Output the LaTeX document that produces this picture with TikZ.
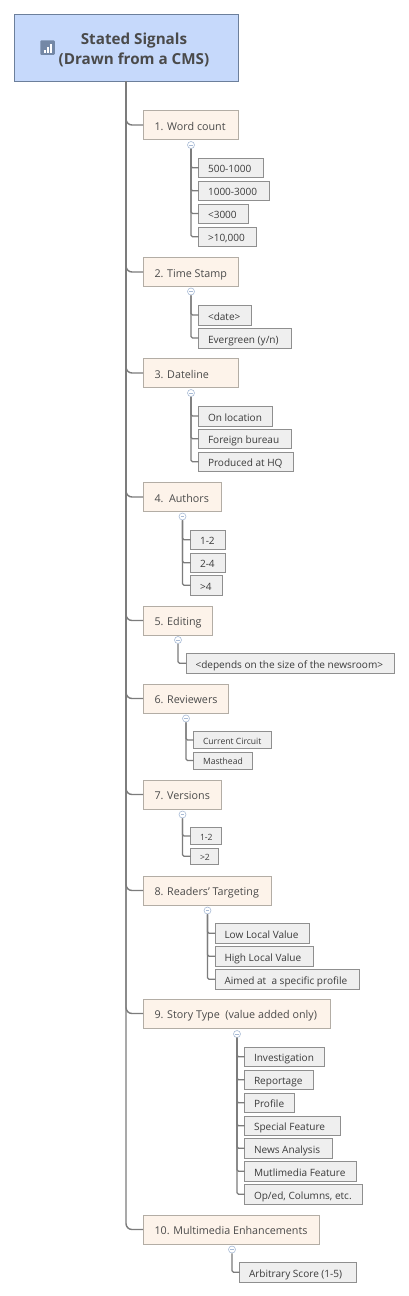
\documentclass[tikz,border=0pt]{standalone}
\usepackage{fontspec}
\setmainfont{Open Sans}
\definecolor{linec}{HTML}{7C7C7C}
\definecolor{txtc}{HTML}{4A4A4A}
\definecolor{rootedge}{HTML}{6C7F9B}
\definecolor{rootfill}{HTML}{C6D9FB}
\definecolor{topicedge}{HTML}{B3ADA5}
\definecolor{topicfill}{HTML}{FDF3EA}
\definecolor{subedge}{HTML}{8F8F8F}
\definecolor{subfill}{HTML}{EFEFEF}
\definecolor{colledge}{HTML}{A9BBD6}
\definecolor{iconc}{HTML}{7488A6}
\tikzset{
  x=1pt,y=-1pt,
  rootbox/.style={draw=rootedge,fill=rootfill,line width=1pt,inner sep=0pt,outer sep=0pt},
  topicbox/.style={draw=topicedge,fill=topicfill,line width=.9pt,anchor=west,inner sep=0pt,outer sep=0pt,text=txtc,text height=10pt,text depth=0pt,font=\fontsize{10.75}{14}\selectfont},
  subbox/.style={draw=subedge,fill=subfill,line width=.9pt,anchor=west,inner sep=0pt,outer sep=0pt,text=txtc!80!black,text height=10pt,text depth=0pt,font=\fontsize{10.05}{13}\selectfont},
  smallbox/.style={subbox,text height=8.6pt,font=\fontsize{8.6}{11}\selectfont},
  collapse/.style={circle,draw=colledge,fill=white,line width=.6pt,minimum size=7pt,inner sep=0pt},
  trunk/.style={draw=linec,line width=1.4pt,rounded corners=6pt},
  twig/.style={draw=linec,line width=1.3pt,rounded corners=1.5pt},
}
% [style], name, x0, x1, y0, y1, text
\newcommand{\subnode}[7][subbox]{%
  \pgfmathsetmacro{\bw}{#4-#3}\pgfmathsetmacro{\bh}{#6-#5}\pgfmathsetmacro{\bm}{(#5+#6)/2}%
  \node[#1,minimum width=\bw pt,minimum height=\bh pt] (#2) at (#3,\bm) {\makebox[\bw pt][l]{\hspace{9.5pt}#7}};}
\newcommand{\topicn}[6]{%
  \pgfmathsetmacro{\bw}{#3-#2}\pgfmathsetmacro{\bh}{#5-#4}\pgfmathsetmacro{\bm}{(#4+#5)/2}%
  \node[topicbox,minimum width=\bw pt,minimum height=\bh pt] (#1) at (#2,\bm) {\makebox[\bw pt][l]{\hspace{11.5pt}#6}};}
\newcommand{\coll}[3]{\node[collapse] (#1) at (#2,#3) {\tikz[x=1pt,y=1pt]\draw[colledge,line width=.6pt] (-1.8,0)--(1.8,0);};}
\begin{document}
\begin{tikzpicture}
\useasboundingbox (0,0) rectangle (408,1296);
\fill[white] (0,0) rectangle (408,1296);

\node[rootbox,minimum width=224pt,minimum height=67pt] (root) at (126,47.5) {};
\node[font=\fontsize{15.2}{20.5}\selectfont\bfseries,text=txtc,align=center,inner sep=0pt] (title) at (134,50) {Stated Signals\\(Drawn from a CMS)};
\node[fill=iconc,rounded corners=1pt,minimum size=14.5pt,inner sep=0pt] (icon) at (47.5,47.5) {};
\fill[white] (icon.center) ++(-3.8,5) rectangle ++(2,-3);
\fill[white] (icon.center) ++(-.8,5) rectangle ++(2,-6);
\fill[white] (icon.center) ++(2.2,5) rectangle ++(2,-9);

% topics
\topicn{t1}{143}{238}{110.5}{139.5}{1. Word count}
\topicn{t2}{143}{238}{257.5}{286.5}{2. Time Stamp}
\topicn{t3}{143}{238}{358.5}{387.5}{3. Dateline}
\topicn{t4}{143}{221}{482.5}{511.5}{4.\ \ Authors}
\topicn{t5}{143}{212.5}{606}{635}{5. Editing}
\topicn{t6}{143}{228.5}{684}{713}{6. Reviewers}
\topicn{t7}{143}{221}{780}{809}{7. Versions}
\topicn{t8}{143}{271}{876}{905}{8. Readers' Targeting}
\topicn{t9}{143}{330.5}{999}{1028}{9. Story Type\ \ (value added only)}
\topicn{t10}{143}{319.5}{1215}{1244}{10. Multimedia Enhancements}

% collapse markers
\coll{c1}{191}{145}
\coll{c2}{191}{291.5}
\coll{c3}{191}{393}
\coll{c4}{182.5}{516.5}
\coll{c5}{178}{640}
\coll{c6}{186}{718.5}
\coll{c7}{182.5}{814.5}
\coll{c8}{207.5}{910.5}
\coll{c9}{237}{1034}
\coll{c10}{232}{1249.5}

% sub topics
\subnode{a1}{198.5}{263.5}{158}{177.5}{500-1000}
\subnode{a2}{198.5}{269.5}{181}{200.5}{1000-3000}
\subnode{a3}{198.5}{248}{204}{223}{<3000}
\subnode{a4}{198.5}{256.5}{227}{246.5}{>10,000}
\subnode{b1}{198.5}{251.5}{305}{325}{<date>}
\subnode{b2}{198.5}{291}{328}{348}{Evergreen (y/n)}
\subnode{d1}{198.5}{272}{406}{426}{On location}
\subnode{d2}{198.5}{291}{429}{448.5}{Foreign bureau}
\subnode{d3}{198.5}{293}{452}{471.5}{Produced at HQ}
\subnode{e1}{190.5}{225.5}{530}{549.5}{1-2}
\subnode{e2}{190.5}{225.5}{553}{572.5}{2-4}
\subnode{e3}{190.5}{222}{575.5}{595}{>4}
\subnode{f1}{186}{394}{653.5}{673}{<depends on the size of the newsroom>}
\subnode[smallbox]{g1}{193.5}{271}{731.5}{748.5}{Current Circuit}
\subnode[smallbox]{g2}{193.5}{252.5}{752}{769}{Masthead}
\subnode[smallbox]{h1}{190.5}{221}{827.5}{844.5}{1-2}
\subnode[smallbox]{h2}{190.5}{218.5}{848}{864.5}{>2}
\subnode{i1}{215}{309.5}{923.5}{943}{Low Local Value}
\subnode{i2}{215}{313}{946.5}{966}{High Local Value}
\subnode{i3}{215}{359.5}{969.5}{989}{Aimed at\ \ a specific profile}
\subnode{j1}{244.5}{324.5}{1047}{1066.5}{Investigation}
\subnode{j2}{244.5}{313.5}{1070}{1089.5}{Reportage}
\subnode{j3}{244.5}{294.5}{1093}{1112.5}{Profile}
\subnode{j4}{244.5}{340}{1116}{1135.5}{Special Feature}
\subnode{j5}{244.5}{332.5}{1138.5}{1158}{News Analysis}
\subnode{j6}{244.5}{356.5}{1161.5}{1181}{Mutlimedia Feature}
\subnode{j7}{244.5}{362}{1184.5}{1204}{Op/ed, Columns, etc.}
\subnode{k1}{239.5}{356}{1262.5}{1282}{Arbitrary Score (1-5)}

% connectors
\foreach \t in {t1,t2,t3,t4,t5,t6,t7,t8,t9,t10}
  \draw[trunk] (root.south) |- (\t.west);
\foreach \c/\s in {c1/a1,c1/a2,c1/a3,c1/a4,c2/b1,c2/b2,c3/d1,c3/d2,c3/d3,c4/e1,c4/e2,c4/e3,c5/f1,c6/g1,c6/g2,c7/h1,c7/h2,c8/i1,c8/i2,c8/i3,c9/j1,c9/j2,c9/j3,c9/j4,c9/j5,c9/j6,c9/j7,c10/k1}
  \draw[twig] (\c.south) |- (\s.west);
\end{tikzpicture}
\end{document}
